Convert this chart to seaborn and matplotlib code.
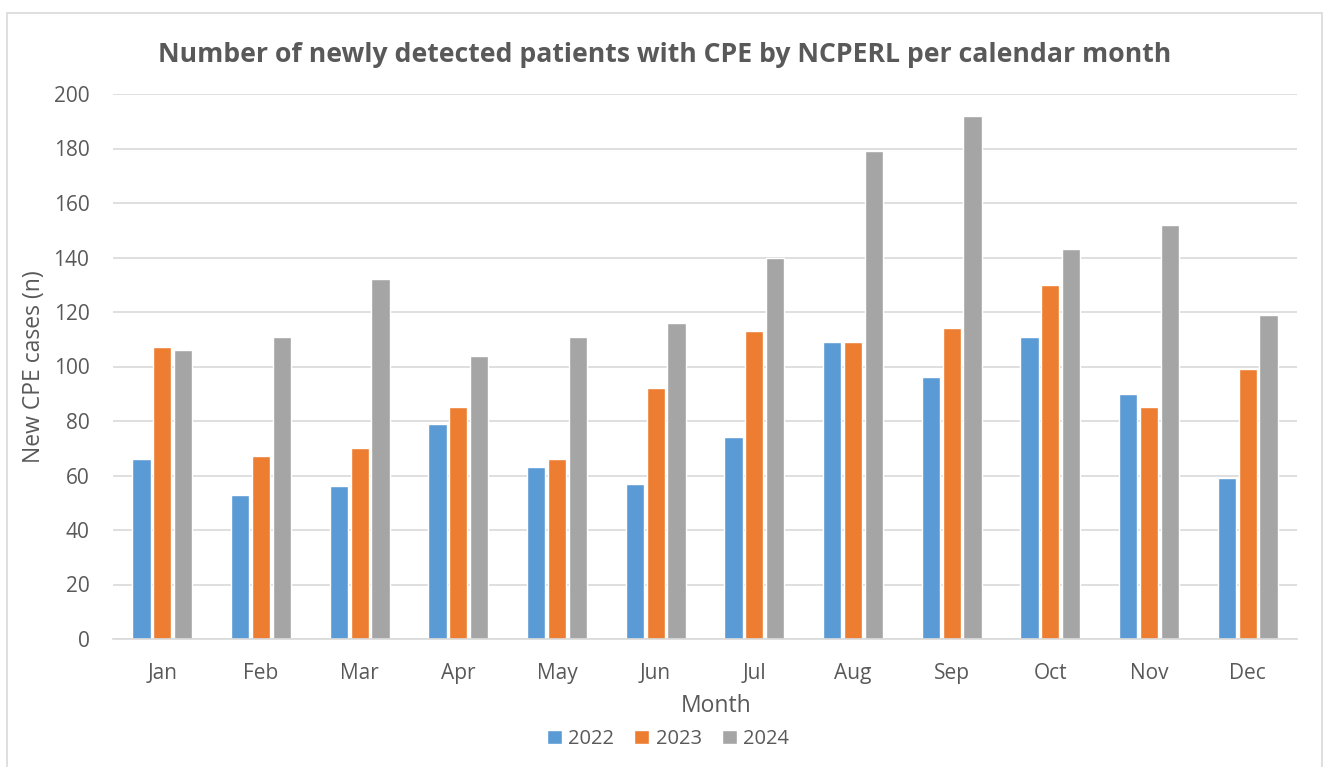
import numpy as np
import pandas as pd
import matplotlib
matplotlib.use('Agg')
import matplotlib.pyplot as plt
import seaborn as sns

# Monthly counts
months = ['Jan', 'Feb', 'Mar', 'Apr', 'May', 'Jun', 'Jul', 'Aug', 'Sep', 'Oct', 'Nov', 'Dec']
cases_2022 = [66, 53, 56, 79, 63, 57, 74, 109, 96, 111, 90, 59]
cases_2023 = [107, 67, 70, 85, 66, 92, 113, 109, 114, 130, 85, 99]
cases_2024 = [106, 111, 132, 104, 111, 116, 140, 179, 192, 143, 152, 119]
years = ['2022', '2023', '2024']
colors = ['#5B9BD5', '#ED7D31', '#A5A5A5']

# Long format for seaborn
df = pd.DataFrame({
    'Month': months * 3,
    'Year': [y for y in years for _ in months],
    'Cases': cases_2022 + cases_2023 + cases_2024,
})

sns.set_theme(style='white')
plt.rcParams['font.family'] = ['Open Sans', 'DejaVu Sans']

W, H = 1325, 767
fig = plt.figure(figsize=(W / 100, H / 100), dpi=100)
ax = fig.add_axes([113 / W, 1 - 639 / H, (1297 - 113) / W, (639 - 94) / H])

sns.barplot(data=df, x='Month', y='Cases', hue='Year', order=months,
            hue_order=years, palette=colors, width=0.63, gap=0.12,
            saturation=1, ax=ax, legend=True)

ax.set_ylim(0, 200)
ax.set_xlim(-0.5, 11.5)
ax.set_yticks(np.arange(0, 201, 20))
ax.yaxis.grid(True, color='#D9D9D9', linewidth=1.2)
ax.set_axisbelow(True)
for side in ['top', 'right', 'left']:
    ax.spines[side].set_visible(False)
ax.spines['bottom'].set_color('#D9D9D9')
ax.spines['bottom'].set_linewidth(1.2)
ax.tick_params(axis='both', length=0, labelsize=15, colors='#595959')
ax.tick_params(axis='x', pad=17)
ax.tick_params(axis='y', pad=17)

ax.set_xlabel('Month', fontsize=16.5, color='#595959')
ax.xaxis.set_label_coords((716 - 113) / 1184, (639 - 694) / 545)
ax.set_ylabel('New CPE cases (n)', fontsize=16.5, color='#595959')
ax.yaxis.set_label_coords((46 - 113) / 1184, 0.5)

fig.text(665 / W, 1 - 55 / H, 'Number of newly detected patients with CPE by NCPERL per calendar month',
         ha='center', va='center', fontsize=19.2, fontweight='bold', color='#595959')

leg = ax.legend(loc='center', bbox_to_anchor=((668 - 113) / 1184, (639 - 739) / 545), ncol=3,
                frameon=False, fontsize=14.5, handlelength=0.75, handleheight=0.75,
                handletextpad=0.3, columnspacing=1.0)
for t in leg.get_texts():
    t.set_color('#595959')

# Light chart border like the original
fig.add_artist(plt.Rectangle((7 / W, -0.01), (1322 - 7) / W, 1 - 13 / H + 0.01,
                             transform=fig.transFigure, fill=False,
                             edgecolor='#D9D9D9', linewidth=1.2))

fig.savefig('out.png', dpi=100)
